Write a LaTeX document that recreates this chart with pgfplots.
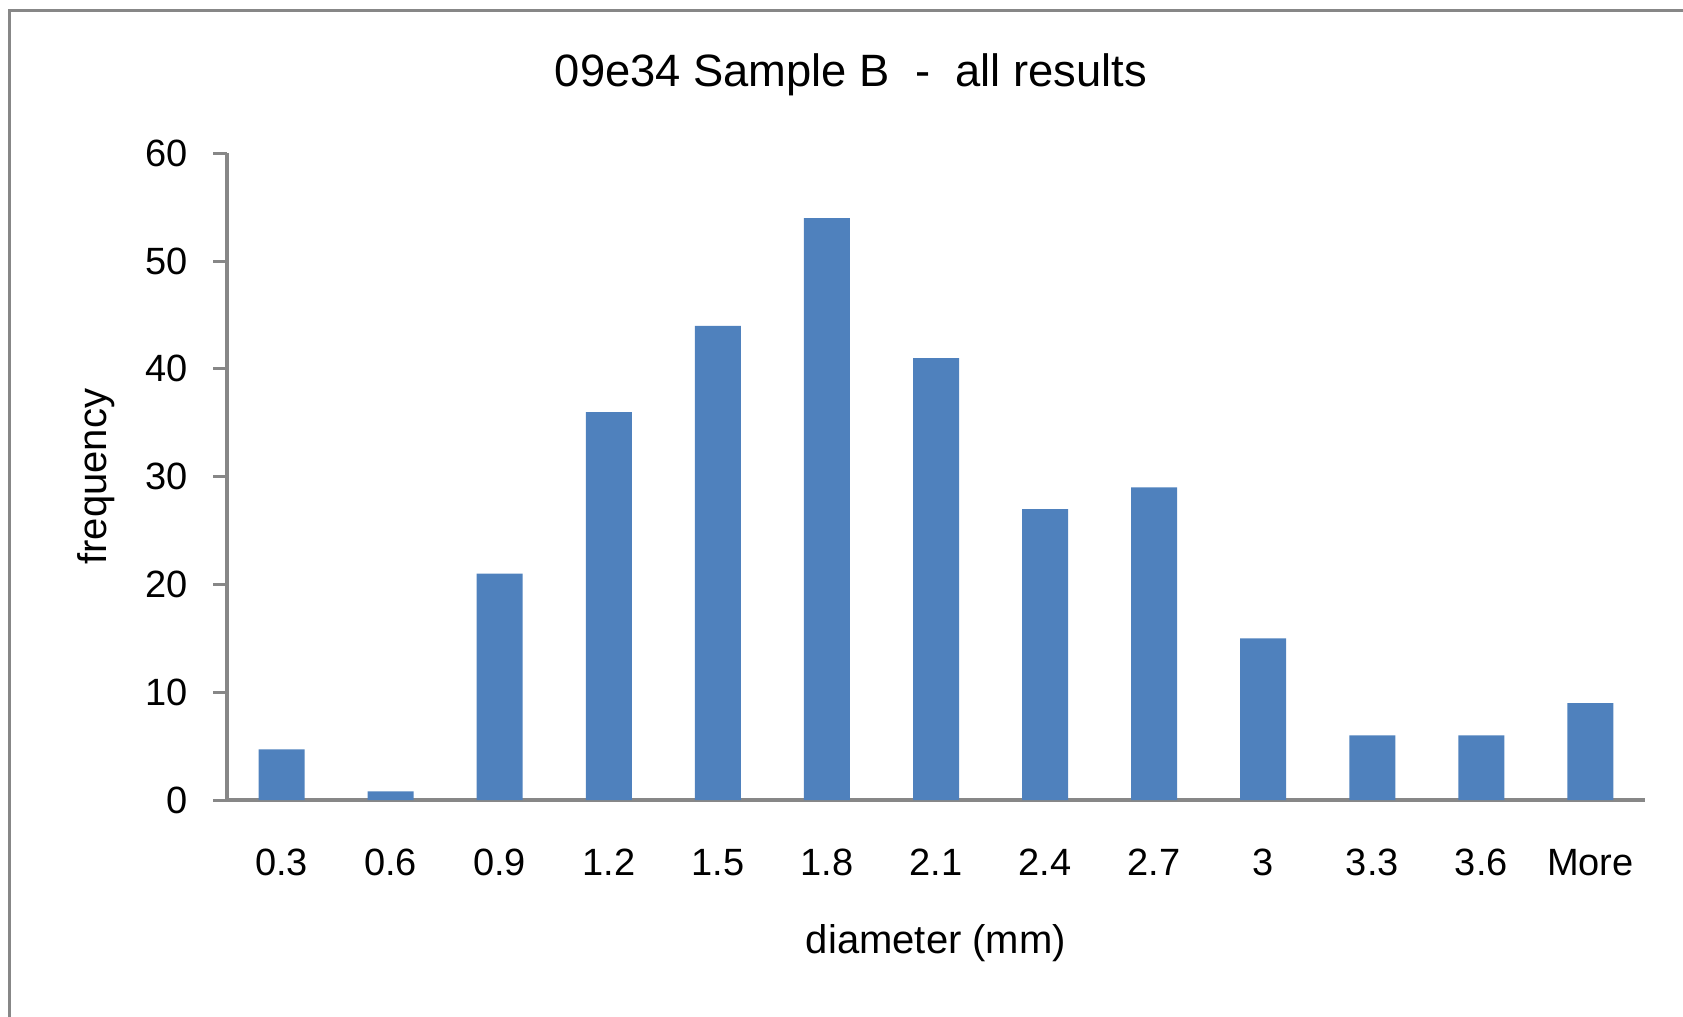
\documentclass[border=0pt]{standalone}
\usepackage{pgfplots}
\pgfplotsset{compat=1.18}
\usepackage{fontspec}
\setmainfont{Liberation Sans}
\definecolor{barblue}{HTML}{4F81BD}
\definecolor{axisgray}{HTML}{878787}
\begin{document}
\begin{tikzpicture}
\useasboundingbox (-68.1pt,-64.8pt) rectangle (436.8pt,240pt);
\draw[axisgray, line width=0.9pt] (-65.1pt,-70pt) -- (-65.1pt,236.7pt) -- (440pt,236.7pt);
\node[anchor=base, font=\fontsize{13.6}{16}\selectfont] at (187.2pt,214pt) {09e34 Sample B\ \ -\ \ all results};
\begin{axis}[
  at={(0,0)}, anchor=south west,
  scale only axis,
  width=425.4pt, height=194pt,
  xmin=-0.5, xmax=12.5, ymin=0, ymax=60,
  axis lines*=left,
  axis line style={axisgray, line width=1.2pt},
  ybar, bar width=13.8pt,
  xtick={0,...,12},
  xticklabels={0.3,0.6,0.9,1.2,1.5,1.8,2.1,2.4,2.7,3,3.3,3.6,More},
  ytick={0,10,20,30,40,50,60},
  tick align=outside,
  major tick length=4.2pt,
  x tick style={draw=none},
  y tick style={axisgray, line width=0.9pt},
  /pgf/number format/assume math mode=true,
  ticklabel style={font=\fontsize{11.4}{13}\selectfont},
  yticklabel style={anchor=east, inner sep=0pt, xshift=-7.3pt},
  xticklabel style={anchor=base, inner sep=0pt, yshift=-18.4pt},
  xlabel={diameter (mm)},
  ylabel={frequency},
  label style={font=\fontsize{12}{14}\selectfont},
  xlabel style={at={(axis description cs:0.5,0)}, anchor=base, yshift=-45.9pt, inner sep=0pt},
  ylabel style={at={(axis description cs:0,0.5)}, anchor=base, yshift=36.1pt, inner sep=0pt},
]
\addplot[fill=barblue, draw=none] coordinates {
(0,4.7) (1,0.8) (2,21) (3,36) (4,44) (5,54) (6,41) (7,27) (8,29) (9,15) (10,6) (11,6) (12,9)
};
\end{axis}
\end{tikzpicture}
\end{document}
